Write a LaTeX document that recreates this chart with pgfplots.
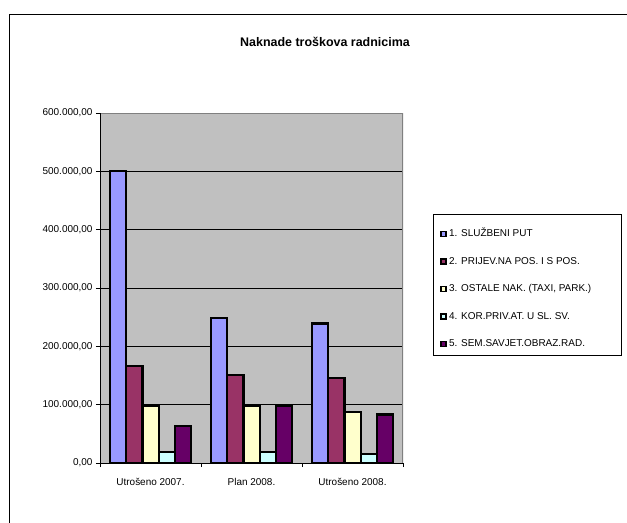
\documentclass[border=0pt]{standalone}
\usepackage{fontspec}
\setmainfont{Liberation Sans}
\usepackage{pgfplots}
\pgfplotsset{compat=1.18}
\definecolor{cA}{HTML}{9999FF}
\definecolor{cB}{HTML}{993366}
\definecolor{cC}{HTML}{FFFFCC}
\definecolor{cD}{HTML}{CCFFFF}
\definecolor{cE}{HTML}{660066}
\definecolor{plotgray}{HTML}{C0C0C0}
\definecolor{bordergray}{HTML}{808080}
\begin{document}
\begin{tikzpicture}
\path[use as bounding box,fill=white] (0bp,0bp) rectangle (627bp,523bp);
\draw[black,line width=1bp] (9bp,0bp) -- (9bp,508bp) -- (627bp,508bp);
\node[font=\fontsize{12.5}{14}\selectfont\bfseries] at (325bp,481bp) {Naknade troškova radnicima};
\begin{axis}[
  at={(100bp,60bp)}, anchor=south west,
  scale only axis, width=303bp, height=350bp,
  xmin=-0.5, xmax=2.5, ymin=0, ymax=600000,
  ybar=0pt, bar width=16.2bp,
  axis background/.style={fill=plotgray},
  axis line style={draw=none},
  xtick pos=bottom, ytick pos=left,
  xtick={0,1,2},
  xticklabels={Utrošeno 2007.,Plan 2008.,Utrošeno 2008.},
  xtick style={draw=none},
  xticklabel style={font=\fontsize{10}{12}\selectfont, yshift=-8bp},
  extra x ticks={-0.5,0.5,1.5,2.5},
  extra x tick labels={},
  extra x tick style={xtick style={draw=black,line width=0.8bp}, major tick length=4bp, tick align=outside, grid=none, xtick pos=bottom},
  ytick={0,100000,200000,300000,400000,500000,600000},
  yticklabels={{0,00},{100.000,00},{200.000,00},{300.000,00},{400.000,00},{500.000,00},{600.000,00}},
  scaled y ticks=false,
  yticklabel style={font=\fontsize{10}{12}\selectfont},
  ytick style={draw=black,line width=0.8bp},
  tick align=outside, major tick length=4bp,
  ymajorgrids, grid style={black,line width=0.8bp},
  every axis plot/.append style={draw=black,line width=2.2bp},
  legend style={at={(1.1221,0.4971)}, anchor=west, draw=none, fill=none,
    inner sep=0pt, row sep=18.5bp, column sep=2.5bp,
    font=\fontsize{10}{12}\selectfont,
    nodes={inner sep=0pt, text height=7bp, text depth=2bp}},
  legend cell align=left,
  legend image code/.code={\draw[#1,draw=black,line width=1.5bp] (0bp,-2.5bp) rectangle (5bp,2.5bp);},
]
\addplot[fill=cA] coordinates {(0,500000) (1,249000) (2,239000)};
\addplot[fill=cB] coordinates {(0,166000) (1,151000) (2,146000)};
\addplot[fill=cC] coordinates {(0,98000) (1,98000) (2,88000)};
\addplot[fill=cD] coordinates {(0,19000) (1,19000) (2,15000)};
\addplot[fill=cE] coordinates {(0,63000) (1,98000) (2,83000)};
\legend{1. SLUŽBENI PUT,2. PRIJEV.NA POS. I S POS.,{3. OSTALE NAK. (TAXI, PARK.)},4. KOR.PRIV.AT. U SL. SV.,5. SEM.SAVJET.OBRAZ.RAD.}
\draw[bordergray,line width=2bp] (rel axis cs:0,1) -- (rel axis cs:1,1) -- (rel axis cs:1,0);
\draw[black,line width=1bp] (rel axis cs:0,1) -- (rel axis cs:0,0) -- (rel axis cs:1,0);
\end{axis}
\draw[black,line width=1bp] (433bp,167bp) rectangle (621bp,308bp);
\end{tikzpicture}
\end{document}
